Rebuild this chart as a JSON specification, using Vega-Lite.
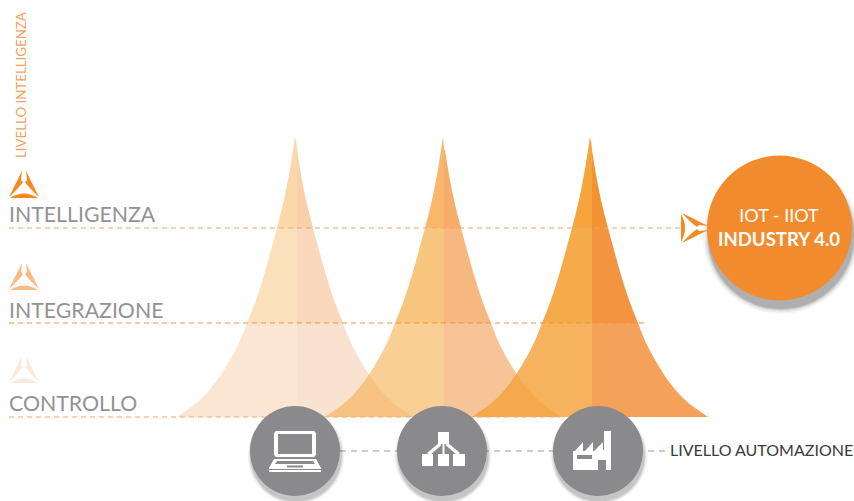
{"$schema":"https://vega.github.io/schema/vega-lite/v6.json","width":854,"height":501,"autosize":{"type":"none"},"padding":0,"background":"#ffffff","config":{"view":{"stroke":null},"font":"Lato"},
"datasets":{
"peaks":[
{"peak":1,"part":"1TL","y":137,"x":295,"x2":295},{"peak":1,"part":"1TL","y":150,"x":293,"x2":297},{"peak":1,"part":"1TL","y":163,"x":291,"x2":297},{"peak":1,"part":"1TL","y":180,"x":288,"x2":297},{"peak":1,"part":"1TL","y":200,"x":284,"x2":297},{"peak":1,"part":"1TL","y":228,"x":277,"x2":297},
{"peak":1,"part":"1ML","y":228,"x":277,"x2":297},{"peak":1,"part":"1ML","y":250,"x":271,"x2":297},{"peak":1,"part":"1ML","y":275,"x":264,"x2":297},{"peak":1,"part":"1ML","y":300,"x":256,"x2":297},{"peak":1,"part":"1ML","y":323,"x":247,"x2":297},
{"peak":1,"part":"1BL","y":323,"x":247,"x2":297},{"peak":1,"part":"1BL","y":345,"x":238,"x2":297},{"peak":1,"part":"1BL","y":365,"x":227,"x2":297},{"peak":1,"part":"1BL","y":383,"x":215,"x2":297},{"peak":1,"part":"1BL","y":395,"x":205,"x2":297},{"peak":1,"part":"1BL","y":405,"x":194,"x2":297},{"peak":1,"part":"1BL","y":412,"x":184,"x2":297},{"peak":1,"part":"1BL","y":417,"x":177,"x2":297},
{"peak":1,"part":"1TR","y":150,"x":297,"x2":297},{"peak":1,"part":"1TR","y":163,"x":297,"x2":299},{"peak":1,"part":"1TR","y":180,"x":297,"x2":302},{"peak":1,"part":"1TR","y":200,"x":297,"x2":306},{"peak":1,"part":"1TR","y":228,"x":297,"x2":313},
{"peak":1,"part":"1MR","y":228,"x":297,"x2":313},{"peak":1,"part":"1MR","y":250,"x":297,"x2":319},{"peak":1,"part":"1MR","y":275,"x":297,"x2":326},{"peak":1,"part":"1MR","y":300,"x":297,"x2":334},{"peak":1,"part":"1MR","y":323,"x":297,"x2":343},
{"peak":1,"part":"1BR","y":323,"x":297,"x2":343},{"peak":1,"part":"1BR","y":345,"x":297,"x2":352},{"peak":1,"part":"1BR","y":365,"x":297,"x2":363},{"peak":1,"part":"1BR","y":383,"x":297,"x2":375},{"peak":1,"part":"1BR","y":395,"x":297,"x2":385},{"peak":1,"part":"1BR","y":405,"x":297,"x2":396},{"peak":1,"part":"1BR","y":412,"x":297,"x2":406},{"peak":1,"part":"1BR","y":417,"x":297,"x2":413},
{"peak":2,"part":"2TL","y":137,"x":443,"x2":443},{"peak":2,"part":"2TL","y":150,"x":441,"x2":444},{"peak":2,"part":"2TL","y":163,"x":439,"x2":444},{"peak":2,"part":"2TL","y":180,"x":436,"x2":444},{"peak":2,"part":"2TL","y":200,"x":432,"x2":444},{"peak":2,"part":"2TL","y":228,"x":425,"x2":444},
{"peak":2,"part":"2ML","y":228,"x":425,"x2":444},{"peak":2,"part":"2ML","y":250,"x":419,"x2":444},{"peak":2,"part":"2ML","y":275,"x":412,"x2":444},{"peak":2,"part":"2ML","y":300,"x":404,"x2":444},{"peak":2,"part":"2ML","y":323,"x":395,"x2":444},
{"peak":2,"part":"2BL","y":323,"x":395,"x2":444},{"peak":2,"part":"2BL","y":345,"x":386,"x2":444},{"peak":2,"part":"2BL","y":365,"x":375,"x2":444},{"peak":2,"part":"2BL","y":383,"x":363,"x2":444},{"peak":2,"part":"2BL","y":395,"x":353,"x2":444},{"peak":2,"part":"2BL","y":405,"x":342,"x2":444},{"peak":2,"part":"2BL","y":412,"x":332,"x2":444},{"peak":2,"part":"2BL","y":417,"x":325,"x2":444},
{"peak":2,"part":"2TR","y":150,"x":444,"x2":445},{"peak":2,"part":"2TR","y":163,"x":444,"x2":447},{"peak":2,"part":"2TR","y":180,"x":444,"x2":450},{"peak":2,"part":"2TR","y":200,"x":444,"x2":454},{"peak":2,"part":"2TR","y":228,"x":444,"x2":461},
{"peak":2,"part":"2MR","y":228,"x":444,"x2":461},{"peak":2,"part":"2MR","y":250,"x":444,"x2":467},{"peak":2,"part":"2MR","y":275,"x":444,"x2":474},{"peak":2,"part":"2MR","y":300,"x":444,"x2":482},{"peak":2,"part":"2MR","y":323,"x":444,"x2":491},
{"peak":2,"part":"2BR","y":323,"x":444,"x2":491},{"peak":2,"part":"2BR","y":345,"x":444,"x2":500},{"peak":2,"part":"2BR","y":365,"x":444,"x2":511},{"peak":2,"part":"2BR","y":383,"x":444,"x2":523},{"peak":2,"part":"2BR","y":395,"x":444,"x2":533},{"peak":2,"part":"2BR","y":405,"x":444,"x2":544},{"peak":2,"part":"2BR","y":412,"x":444,"x2":554},{"peak":2,"part":"2BR","y":417,"x":444,"x2":561},
{"peak":3,"part":"3TL","y":137,"x":590,"x2":590},{"peak":3,"part":"3TL","y":150,"x":588,"x2":592},{"peak":3,"part":"3TL","y":163,"x":586,"x2":592},{"peak":3,"part":"3TL","y":180,"x":583,"x2":592},{"peak":3,"part":"3TL","y":200,"x":579,"x2":592},{"peak":3,"part":"3TL","y":228,"x":572,"x2":592},
{"peak":3,"part":"3ML","y":228,"x":572,"x2":592},{"peak":3,"part":"3ML","y":250,"x":566,"x2":592},{"peak":3,"part":"3ML","y":275,"x":559,"x2":592},{"peak":3,"part":"3ML","y":300,"x":551,"x2":592},{"peak":3,"part":"3ML","y":323,"x":542,"x2":592},
{"peak":3,"part":"3BL","y":323,"x":542,"x2":592},{"peak":3,"part":"3BL","y":345,"x":533,"x2":592},{"peak":3,"part":"3BL","y":365,"x":522,"x2":592},{"peak":3,"part":"3BL","y":383,"x":510,"x2":592},{"peak":3,"part":"3BL","y":395,"x":500,"x2":592},{"peak":3,"part":"3BL","y":405,"x":489,"x2":592},{"peak":3,"part":"3BL","y":412,"x":479,"x2":592},{"peak":3,"part":"3BL","y":417,"x":472,"x2":592},
{"peak":3,"part":"3TR","y":150,"x":592,"x2":592},{"peak":3,"part":"3TR","y":163,"x":592,"x2":594},{"peak":3,"part":"3TR","y":180,"x":592,"x2":597},{"peak":3,"part":"3TR","y":200,"x":592,"x2":601},{"peak":3,"part":"3TR","y":228,"x":592,"x2":608},
{"peak":3,"part":"3MR","y":228,"x":592,"x2":608},{"peak":3,"part":"3MR","y":250,"x":592,"x2":614},{"peak":3,"part":"3MR","y":275,"x":592,"x2":621},{"peak":3,"part":"3MR","y":300,"x":592,"x2":629},{"peak":3,"part":"3MR","y":323,"x":592,"x2":638},
{"peak":3,"part":"3BR","y":323,"x":592,"x2":638},{"peak":3,"part":"3BR","y":345,"x":592,"x2":647},{"peak":3,"part":"3BR","y":365,"x":592,"x2":658},{"peak":3,"part":"3BR","y":383,"x":592,"x2":670},{"peak":3,"part":"3BR","y":395,"x":592,"x2":680},{"peak":3,"part":"3BR","y":405,"x":592,"x2":691},{"peak":3,"part":"3BR","y":412,"x":592,"x2":701},{"peak":3,"part":"3BR","y":417,"x":592,"x2":708}
],
"levels":[{"x":9,"x2":680,"y":228},{"x":9,"x2":560,"y":417}],
"nodes":[{"x":295,"y":451},{"x":442,"y":451},{"x":598,"y":451}],
"nodeShadow":[{"x":296,"y":456},{"x":443,"y":456},{"x":599,"y":456}],
"hub":[{"x":779.5,"y":228}],
"hubShadow":[{"x":781,"y":236}]
},
"encoding":{
"x":{"field":"x","type":"quantitative","stack":null,"axis":null,"scale":{"domain":[0,854],"nice":false,"zero":false}},
"y":{"field":"y","type":"quantitative","axis":null,"scale":{"domain":[501,0],"nice":false,"zero":false}}
},
"layer":[
{"data":{"name":"peaks"},"transform":[{"filter":"datum.peak==1"}],"mark":{"type":"area","orient":"horizontal","interpolate":"monotone"},"encoding":{"x2":{"field":"x2"},"color":{"field":"part","type":"nominal","legend":null,"scale":{"domain":["1TL","1TR","1ML","1MR","1BL","1BR","2TL","2TR","2ML","2MR","2BL","2BR","3TL","3TR","3ML","3MR","3BL","3BR"],"range":["#FBD7A9","#FAD0A8","#FBE0BC","#FAD8BD","#FBE6D3","#FAE2D0","#F3870C","#F07607","#F39E2A","#F2872B","#F5AF4E","#F29D52","#F3951A","#F0800E","#F39C2A","#F0811E","#F4A43F","#F2923D"]}}}},
{"data":{"name":"peaks"},"transform":[{"filter":"datum.peak==2"}],"mark":{"type":"area","orient":"horizontal","interpolate":"monotone","opacity":0.6},"encoding":{"x2":{"field":"x2"},"color":{"field":"part","type":"nominal","legend":null}}},
{"data":{"name":"peaks"},"transform":[{"filter":"datum.peak==3"}],"mark":{"type":"area","orient":"horizontal","interpolate":"monotone","opacity":0.85},"encoding":{"x2":{"field":"x2"},"color":{"field":"part","type":"nominal","legend":null}}},
{"data":{"name":"levels"},"mark":{"type":"rule","color":"#F4A86A","strokeWidth":1.2,"strokeDash":[5,4]},"encoding":{"x2":{"field":"x2"}}},
{"data":{"values":[{"x":9,"x2":645,"y":323}]},"mark":{"type":"rule","color":"#EE9347","strokeWidth":1.2,"strokeDash":[5,4]},"encoding":{"x2":{"field":"x2"}}},
{"data":{"values":[{"x":340,"x2":665,"y":451}]},"mark":{"type":"rule","color":"#9A9A9A","strokeWidth":1,"strokeDash":[6,5]},"encoding":{"x2":{"field":"x2"}}},
{"data":{"name":"nodeShadow"},"mark":{"type":"point","filled":true,"color":"#000000","opacity":0.03,"size":9409},"encoding":{}},
{"data":{"name":"nodeShadow"},"mark":{"type":"point","filled":true,"color":"#000000","opacity":0.05,"size":9025},"encoding":{}},
{"data":{"name":"nodeShadow"},"mark":{"type":"point","filled":true,"color":"#000000","opacity":0.07,"size":8649},"encoding":{}},
{"data":{"name":"nodeShadow"},"mark":{"type":"point","filled":true,"color":"#000000","opacity":0.09,"size":8281},"encoding":{}},
{"data":{"name":"nodes"},"mark":{"type":"point","filled":true,"color":"#8A8A8C","opacity":1,"size":8100},"encoding":{}},
{"data":{"name":"hubShadow"},"mark":{"type":"point","filled":true,"color":"#000000","opacity":0.03,"size":24336},"encoding":{}},
{"data":{"name":"hubShadow"},"mark":{"type":"point","filled":true,"color":"#000000","opacity":0.05,"size":23409},"encoding":{}},
{"data":{"name":"hubShadow"},"mark":{"type":"point","filled":true,"color":"#000000","opacity":0.07,"size":22500},"encoding":{}},
{"data":{"name":"hubShadow"},"mark":{"type":"point","filled":true,"color":"#000000","opacity":0.09,"size":21904},"encoding":{}},
{"data":{"name":"hubShadow"},"mark":{"type":"point","filled":true,"color":"#000000","opacity":0.11,"size":21316},"encoding":{}},
{"data":{"name":"hub"},"mark":{"type":"point","filled":true,"color":"#F28B2E","opacity":1,"size":21025},"encoding":{}},
{"data":{"values":[{"x":295,"y":451}]},"mark":{"type":"point","filled":true,"color":"#ffffff","opacity":1,"size":4,"shape":"M-19,-20 L19,-20 L21,-18 L21,4 L19,6 L-19,6 L-21,4 L-21,-18 Z M-17,-17 L-17,3 L17,3 L17,-17 Z M-21,8 L21,8 L26,17 L26,21 L-26,21 L-26,17 Z M-18,10 L-20,13 L20,13 L18,10 Z M-8,14.5 L-8,16.5 L8,16.5 L8,14.5 Z M-26,18 L-26,19 L26,19 L26,18 Z"},"encoding":{}},
{"data":{"values":[{"x":442,"y":451}]},"mark":{"type":"point","filled":true,"color":"#ffffff","opacity":1,"size":4,"shape":"M-4,-19 L7,-19 L7,-7 L-4,-7 Z M-20,3 L-9,3 L-9,15 L-20,15 Z M-4,3 L7,3 L7,15 L-4,15 Z M11,3 L23,3 L23,15 L11,15 Z M0.5,-7 L2.5,-7 L2.5,3 L0.5,3 Z M-3,-8 L-0.5,-6 L-12,4 L-15,2 Z M6,-8 L18,2 L15,4 L3.5,-6 Z"},"encoding":{}},
{"data":{"values":[{"x":598,"y":451}]},"mark":{"type":"point","filled":true,"color":"#ffffff","opacity":1,"size":4,"shape":"M-25,19 L-25,0 L-23,0 L-15,-9 L-15,0 L-13,0 L-5,-9 L-5,0 L-4,0 L5,-9 L5,-1 L6,-1 L6,-20 L13,-20 L13,19 L8,19 L8,9 L0,9 L0,19 Z M-21,4 L-21,8 L-6,8 L-6,4 Z"},"encoding":{}},
{"data":{"values":[{"x":24,"y":185}]},"mark":{"type":"point","filled":true,"color":"#F58A1F","opacity":1,"size":4,"shape":"M-2,-14 L-15,12 Q-6,4 -1,-3 L-3,-5 Z M2,-14 L3,-5 L1,-3 Q6,4 15,12 Z M-14,13 Q0,4 14,13 Z"},"encoding":{}},
{"data":{"values":[{"x":24,"y":277}]},"mark":{"type":"point","filled":true,"color":"#FBB983","opacity":1,"size":4,"shape":"M-2,-14 L-15,12 Q-6,4 -1,-3 L-3,-5 Z M2,-14 L3,-5 L1,-3 Q6,4 15,12 Z M-14,13 Q0,4 14,13 Z"},"encoding":{}},
{"data":{"values":[{"x":24,"y":370}]},"mark":{"type":"point","filled":true,"color":"#FBEBDD","opacity":1,"size":4,"shape":"M-2,-14 L-15,12 Q-6,4 -1,-3 L-3,-5 Z M2,-14 L3,-5 L1,-3 Q6,4 15,12 Z M-14,13 Q0,4 14,13 Z"},"encoding":{}},
{"data":{"values":[{"x":694,"y":228}]},"mark":{"type":"point","filled":true,"color":"#F58A1F","opacity":1,"size":4,"shape":"M14,-2 L-12,-15 Q-4,-6 3,-1 L5,-3 Z M14,2 L5,3 L3,1 Q-4,6 -12,15 Z M-13,-14 Q-5,0 -13,14 Z"},"encoding":{}},
{"data":{"values":[{"x":9,"y":222,"t":"INTELLIGENZA"},{"x":9,"y":318,"t":"INTEGRAZIONE"},{"x":9,"y":411,"t":"CONTROLLO"}]},"mark":{"type":"text","font":"Lato","fontSize":21.3,"fontWeight":400,"color":"#939393","align":"left","baseline":"alphabetic"},"encoding":{"text":{"field":"t"}}},
{"data":{"values":[{"x":26,"y":158,"t":"LIVELLO INTELLIGENZA"}]},"mark":{"type":"text","font":"Lato","fontSize":13.3,"color":"#F2A25E","align":"left","baseline":"alphabetic","angle":270},"encoding":{"text":{"field":"t"}}},
{"data":{"values":[{"x":670,"y":456,"t":"LIVELLO AUTOMAZIONE"}]},"mark":{"type":"text","font":"Lato","fontSize":16,"color":"#3A3A3A","align":"left","baseline":"alphabetic"},"encoding":{"text":{"field":"t"}}},
{"data":{"values":[{"x":779,"y":222,"t":"IOT - IIOT"}]},"mark":{"type":"text","font":"Lato","fontSize":18,"color":"#ffffff","align":"center","baseline":"alphabetic"},"encoding":{"text":{"field":"t"}}},
{"data":{"values":[{"x":779,"y":246,"t":"INDUSTRY 4.0"}]},"mark":{"type":"text","font":"Lato","fontSize":18.6,"fontWeight":700,"color":"#ffffff","align":"center","baseline":"alphabetic"},"encoding":{"text":{"field":"t"}}}
]}
